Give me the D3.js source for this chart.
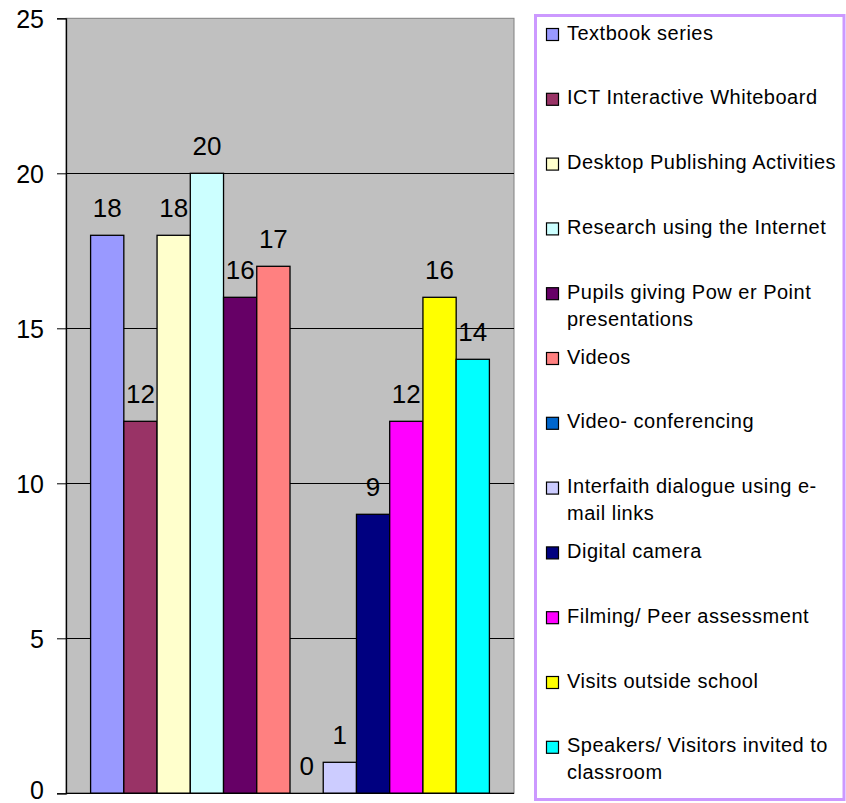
<!DOCTYPE html>
<html>
<head>
<meta charset="utf-8">
<script src="https://cdn.jsdelivr.net/npm/d3@7"></script>
<style>
  html, body { margin: 0; padding: 0; background: #ffffff; }
  svg { display: block; font-family: "Liberation Sans", Arial, sans-serif; }
</style>
</head>
<body>
<svg id="chart" width="846" height="803"></svg>
<script>
// ---- Data ----
const seriesNames = [
  "Textbook series",
  "ICT Interactive Whiteboard",
  "Desktop Publishing Activities",
  "Research using the Internet",
  "Pupils giving Pow er Point presentations",
  "Videos",
  "Video- conferencing",
  "Interfaith dialogue using e-mail links",
  "Digital camera",
  "Filming/ Peer assessment",
  "Visits outside school",
  "Speakers/ Visitors invited to classroom"
];
const legendLines = [
  ["Textbook series"],
  ["ICT Interactive Whiteboard"],
  ["Desktop Publishing Activities"],
  ["Research using the Internet"],
  ["Pupils giving Pow er Point", "presentations"],
  ["Videos"],
  ["Video- conferencing"],
  ["Interfaith dialogue using e-", "mail links"],
  ["Digital camera"],
  ["Filming/ Peer assessment"],
  ["Visits outside school"],
  ["Speakers/ Visitors invited to", "classroom"]
];
const seriesValues = [18, 12, 18, 20, 16, 17, 0, 1, 9, 12, 16, 14];
const seriesColors = ["#9999FF", "#993366", "#FFFFCC", "#CCFFFF", "#660066", "#FF8080",
                      "#0066CC", "#CCCCFF", "#000080", "#FF00FF", "#FFFF00", "#00FFFF"];
const yTicks = [0, 5, 10, 15, 20, 25];

// ---- Layout ----
const svg = d3.select("#chart");
const plot = { left: 66, right: 514, top: 18.3, bottom: 793.3 };

const x = d3.scaleBand()
  .domain(seriesNames)
  .range([plot.left, plot.right])
  .paddingInner(0)
  .paddingOuter(0.74);

const y = d3.scaleLinear()
  .domain([0, 25])
  .range([plot.bottom, plot.top]);

// plot background
svg.append("rect")
  .attr("x", plot.left)
  .attr("y", plot.top)
  .attr("width", plot.right - plot.left)
  .attr("height", plot.bottom - plot.top)
  .attr("fill", "#C0C0C0")
  .attr("stroke", "#808080")
  .attr("stroke-width", 1);

// gridlines
svg.append("g")
  .selectAll("line")
  .data(yTicks.filter(t => t > 0 && t < 25))
  .join("line")
  .attr("x1", plot.left)
  .attr("x2", plot.right)
  .attr("y1", d => Math.round(y(d)) + 0.5)
  .attr("y2", d => Math.round(y(d)) + 0.5)
  .attr("stroke", "#000")
  .attr("stroke-width", 1);

// bars
svg.append("g")
  .selectAll("rect")
  .data(seriesValues)
  .join("rect")
  .attr("x", (d, i) => x(seriesNames[i]))
  .attr("y", d => y(d))
  .attr("width", x.bandwidth())
  .attr("height", d => y(0) - y(d))
  .attr("fill", (d, i) => seriesColors[i])
  .attr("stroke", "#000")
  .attr("stroke-width", 1.3);

// value labels
svg.append("g")
  .selectAll("text")
  .data(seriesValues)
  .join("text")
  .attr("x", (d, i) => x(seriesNames[i]) + x.bandwidth() / 2)
  .attr("y", d => y(d) - 18)
  .attr("text-anchor", "middle")
  .attr("font-size", 26)
  .attr("fill", "#000")
  .text(d => d);

// y axis
const yAxis = d3.axisLeft(y)
  .tickValues(yTicks)
  .tickSize(9)
  .tickPadding(13)
  .tickFormat(d3.format("d"));
const ga = svg.append("g")
  .attr("transform", `translate(${plot.left},0)`)
  .call(yAxis);
ga.select(".domain").attr("stroke", "#000").attr("stroke-width", 1.3);
ga.selectAll(".tick line").attr("stroke", "#000");
ga.selectAll(".tick text")
  .attr("font-size", 25)
  .attr("font-family", "Liberation Sans, Arial, sans-serif")
  .attr("fill", "#000")
  .attr("dy", d => d === 0 ? "0.2em" : "0.36em");

// x baseline
svg.append("line")
  .attr("x1", plot.left)
  .attr("x2", plot.right)
  .attr("y1", y(0))
  .attr("y2", y(0))
  .attr("stroke", "#000")
  .attr("stroke-width", 1.3);

// ---- Legend ----
const legend = svg.append("g");
legend.append("rect")
  .attr("x", 535.5)
  .attr("y", 15.5)
  .attr("width", 308.5)
  .attr("height", 784)
  .attr("fill", "#fff")
  .attr("stroke", "#CC99FF")
  .attr("stroke-width", 3);

const itemStep = 64.8;
const firstBaseline = 39.5;
const items = legend.selectAll("g.item")
  .data(legendLines)
  .join("g")
  .attr("class", "item")
  .attr("transform", (d, i) => `translate(0,${firstBaseline + i * itemStep})`);

items.append("rect")
  .attr("x", 546.5)
  .attr("y", -11)
  .attr("width", 12)
  .attr("height", 12)
  .attr("fill", (d, i) => seriesColors[i])
  .attr("stroke", "#000")
  .attr("stroke-width", 1.2);

items.append("text")
  .attr("x", 567)
  .attr("y", 0)
  .attr("font-size", 20)
  .attr("letter-spacing", 0.5)
  .attr("fill", "#000")
  .selectAll("tspan")
  .data(d => d)
  .join("tspan")
  .attr("x", 567)
  .attr("dy", (d, j) => j === 0 ? 0 : 27)
  .text(d => d);
</script>
</body>
</html>
